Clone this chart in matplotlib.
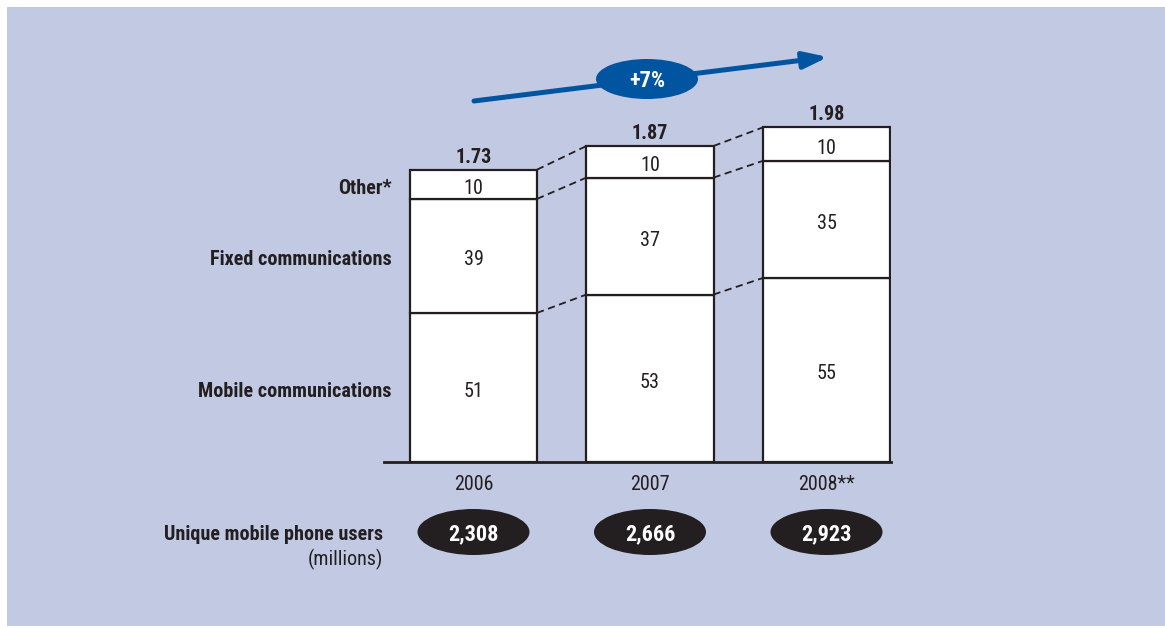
import numpy as np
import matplotlib
matplotlib.use('Agg')
import matplotlib.pyplot as plt
from matplotlib.patches import Ellipse, Rectangle

# data
years = ['2006', '2007', '2008**']
totals = [1.73, 1.87, 1.98]
mobile = [51, 53, 55]
fixed = [39, 37, 35]
other = [10, 10, 10]
segment_names = ['Mobile communications', 'Fixed communications', 'Other*']
users = ['2,308', '2,666', '2,923']
growth_label = '+7%'

plt.rcParams['font.family'] = ['Roboto Condensed', 'DejaVu Sans']

BG = '#c2c9e3'
INK = '#231f20'
BLUE = '#0054a0'

W, H = 1165, 628
fig = plt.figure(figsize=(W / 100, H / 100), dpi=100)
fig.patch.set_facecolor('white')
# light blue panel with a thin white margin top/left
fig.patches.append(Rectangle((7 / W, 0.003), 1 - 7 / W, 1 - 7 / H - 0.003,
                             transform=fig.transFigure, facecolor=BG,
                             edgecolor='none', zorder=-10))

# axes placed so the baseline sits at 462px from top, 169 px per unit
ax_left, ax_right = 384, 891
base_y = 462
px_per_unit = 169.0
ax_top = 40
ax = fig.add_axes([ax_left / W, (H - base_y) / H,
                   (ax_right - ax_left) / W, (base_y - ax_top) / H])
ax.patch.set_alpha(0)
x_per_px = 1 / 176.5
ax.set_xlim(-(473.5 - ax_left) * x_per_px, (ax_right - 473.5) * x_per_px)
ax.set_ylim(0, (base_y - ax_top) / px_per_unit)
for s in ['top', 'left', 'right']:
    ax.spines[s].set_visible(False)
ax.spines['bottom'].set_linewidth(2)
ax.spines['bottom'].set_color(INK)
ax.set_xticks([])
ax.set_yticks([])

x = np.arange(len(years))
bw = 0.72
tot = np.array(totals)
parts = [np.array(mobile), np.array(fixed), np.array(other)]
dy = 4 / px_per_unit  # labels sit a little below the segment centre

bottom = np.zeros(len(years))
bounds = [bottom.copy()]
for p in parts:
    h = tot * p / 100
    ax.bar(x, h, bw, bottom=bottom, color='white', edgecolor=INK,
           linewidth=1.6, zorder=3)
    for i in range(len(x)):
        ax.text(x[i], bottom[i] + h[i] / 2 - dy, str(p[i]), ha='center',
                va='center', fontsize=14.5, color=INK, zorder=4)
    bottom = bottom + h
    bounds.append(bottom.copy())

# dashed connectors between the segment tops
for b in bounds[1:]:
    for i in range(len(x) - 1):
        ax.plot([x[i] + bw / 2, x[i + 1] - bw / 2], [b[i], b[i + 1]],
                ls=(0, (4, 2.5)), lw=1.3, color=INK, zorder=2)

# totals
for i in range(len(x)):
    ax.text(x[i], tot[i] + 0.018, f'{totals[i]:.2f}', ha='center',
            va='bottom', fontsize=14.5, fontweight='bold', color=INK)

# segment names on the left, level with the first bar
lab_x = (392 - 473.5) * x_per_px
for k, name in enumerate(segment_names):
    yc = (bounds[k][0] + bounds[k + 1][0]) / 2
    ax.text(lab_x, yc - dy, name, ha='right', va='center', fontsize=14.5,
            fontweight='bold', color=INK)

# year labels
for i in range(len(x)):
    ax.text(x[i], -22 / px_per_unit, years[i], ha='center', va='center',
            fontsize=14.5, color=INK, clip_on=False)

# users ellipses
ell_y = -(532 - base_y) / px_per_unit
for i in range(len(x)):
    ax.add_patch(Ellipse((x[i], ell_y), 112 * x_per_px, 46 / px_per_unit,
                         facecolor=INK, edgecolor='none', clip_on=False))
    ax.text(x[i], ell_y - 2 / px_per_unit, users[i], ha='center',
            va='center', fontsize=16, fontweight='bold', color='white',
            clip_on=False)
ax.text((383 - 473.5) * x_per_px, ell_y - 2 / px_per_unit,
        'Unique mobile phone users', ha='right', va='center', fontsize=14.5,
        fontweight='bold', color=INK, clip_on=False)
ax.text((383 - 473.5) * x_per_px, -(559 - base_y) / px_per_unit,
        '(millions)', ha='right', va='center', fontsize=14.5, color=INK,
        clip_on=False)

# growth arrow
x0, y0 = (474 - 473.5) * x_per_px, (base_y - 101) / px_per_unit
x1, y1 = (828 - 473.5) * x_per_px, (base_y - 57) / px_per_unit
ax.annotate('', xy=(x1, y1), xytext=(x0, y0),
            arrowprops=dict(arrowstyle='-|>,head_length=1.45,head_width=0.5',
                            color=BLUE, lw=3.6, shrinkA=0, shrinkB=0),
            annotation_clip=False)
ex, ey = (647 - 473.5) * x_per_px, (base_y - 79) / px_per_unit
ax.add_patch(Ellipse((ex, ey), 102 * x_per_px, 40 / px_per_unit,
                     facecolor=BLUE, edgecolor='none', clip_on=False, zorder=5))
ax.text(ex, ey - 2 / px_per_unit, growth_label, ha='center', va='center',
        fontsize=16, fontweight='bold', color='white', zorder=6)

fig.savefig('out.png', dpi=100, facecolor=fig.get_facecolor())
